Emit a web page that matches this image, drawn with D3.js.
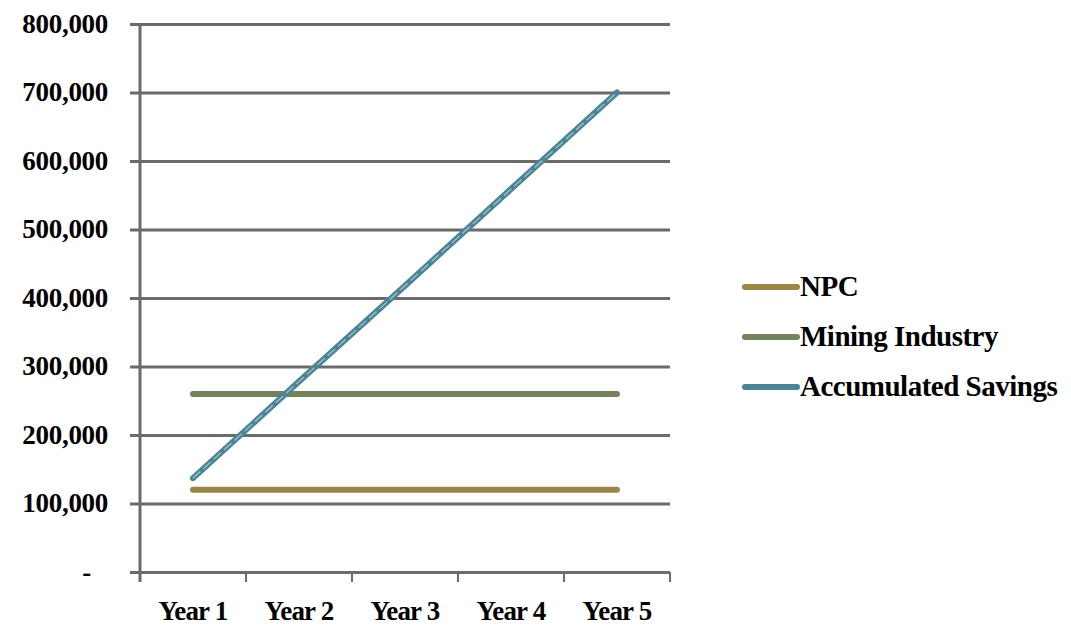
<!DOCTYPE html>
<html>
<head>
<meta charset="utf-8">
<script src="https://cdn.jsdelivr.net/npm/d3@7"></script>
<style>
  body { margin: 0; background: #fff; }
  svg text { font-family: "Liberation Serif", "DejaVu Serif", serif; font-weight: bold; fill: #000; }
</style>
</head>
<body>
<svg id="chart" width="1071" height="629"></svg>
<script>
const years = ['Year 1', 'Year 2', 'Year 3', 'Year 4', 'Year 5'];
const yTicks = [0, 100000, 200000, 300000, 400000, 500000, 600000, 700000, 800000];
const npc = [120000, 120000, 120000, 120000, 120000];
const mining = [260000, 260000, 260000, 260000, 260000];
const accumulated = [137000, 278000, 418000, 559000, 700000];

const seriesList = [
  { name: 'NPC', values: npc, color: '#9b8646' },
  { name: 'Mining Industry', values: mining, color: '#72845a' },
  { name: 'Accumulated Savings', values: accumulated, color: '#4a8597', dash: '#93bac6' }
];

const margin = { top: 24, left: 140, right: 401, bottom: 57 };
const width = 1071 - margin.left - margin.right;
const height = 629 - margin.top - margin.bottom;

const svg = d3.select('#chart')
  .append('g')
  .attr('transform', `translate(${margin.left},${margin.top})`);

const x = d3.scaleBand().domain(years).range([0, width]);
const y = d3.scaleLinear().domain([0, 800000]).range([height, 0]);

// Grid + y axis
const yAxis = svg.append('g')
  .call(d3.axisLeft(y).tickValues(yTicks).tickSize(-width).tickSizeOuter(0)
    .tickFormat(d => d === 0 ? '-' : d3.format(',')(d)));
yAxis.select('.domain').remove();
yAxis.selectAll('.tick line')
  .attr('x1', -10)
  .attr('stroke', '#6b6b6b')
  .attr('stroke-width', 3);
yAxis.selectAll('.tick text')
  .attr('x', -32)
  .attr('dx', d => d === 0 ? -17 : 0)
  .attr('dy', '0.3em')
  .style('font-size', '27px')
  .style('letter-spacing', '-0.3px');

// X axis
const xAxis = svg.append('g')
  .attr('transform', `translate(0,${height})`)
  .call(d3.axisBottom(x).tickSize(0).tickSizeOuter(0));
xAxis.select('.domain').remove();
xAxis.selectAll('.tick text')
  .attr('y', 40)
  .attr('dy', '0.3em')
  .style('font-size', '27px')
  .style('letter-spacing', '-0.8px');

// x tick marks at band edges
svg.append('g')
  .selectAll('line')
  .data(years.concat(['end']))
  .join('line')
  .attr('x1', (d, i) => i < years.length ? x(d) : width)
  .attr('x2', (d, i) => i < years.length ? x(d) : width)
  .attr('y1', height)
  .attr('y2', height + 10)
  .attr('stroke', '#6b6b6b')
  .attr('stroke-width', 2);

// vertical axis line
svg.append('line')
  .attr('x1', 0).attr('x2', 0)
  .attr('y1', 0).attr('y2', height + 10)
  .attr('stroke', '#6b6b6b')
  .attr('stroke-width', 3);

const line = d3.line()
  .x((d, i) => x(years[i]) + x.bandwidth() / 2)
  .y(d => y(d));

seriesList.forEach(s => {
  svg.append('path')
    .datum(s.values)
    .attr('fill', 'none')
    .attr('stroke', s.color)
    .attr('stroke-width', 6)
    .attr('stroke-linecap', 'round')
    .attr('d', line);
  if (s.dash) {
    svg.append('path')
      .datum(s.values)
      .attr('fill', 'none')
      .attr('stroke', s.dash)
      .attr('stroke-width', 1.5)
      .attr('stroke-dasharray', '10,4')
      .attr('d', line);
  }
});

// Legend
const legend = svg.append('g')
  .attr('transform', `translate(${745 - margin.left},${287 - margin.top})`);
const item = legend.selectAll('g')
  .data(seriesList)
  .join('g')
  .attr('transform', (d, i) => `translate(0,${i * 50})`);
item.append('line')
  .attr('x1', 0).attr('x2', 52)
  .attr('stroke', d => d.color)
  .attr('stroke-width', 6)
  .attr('stroke-linecap', 'round');
item.append('text')
  .attr('x', 55)
  .attr('dy', '0.3em')
  .style('font-size', '29px')
  .style('letter-spacing', '-0.5px')
  .text(d => d.name);
</script>
</body>
</html>
